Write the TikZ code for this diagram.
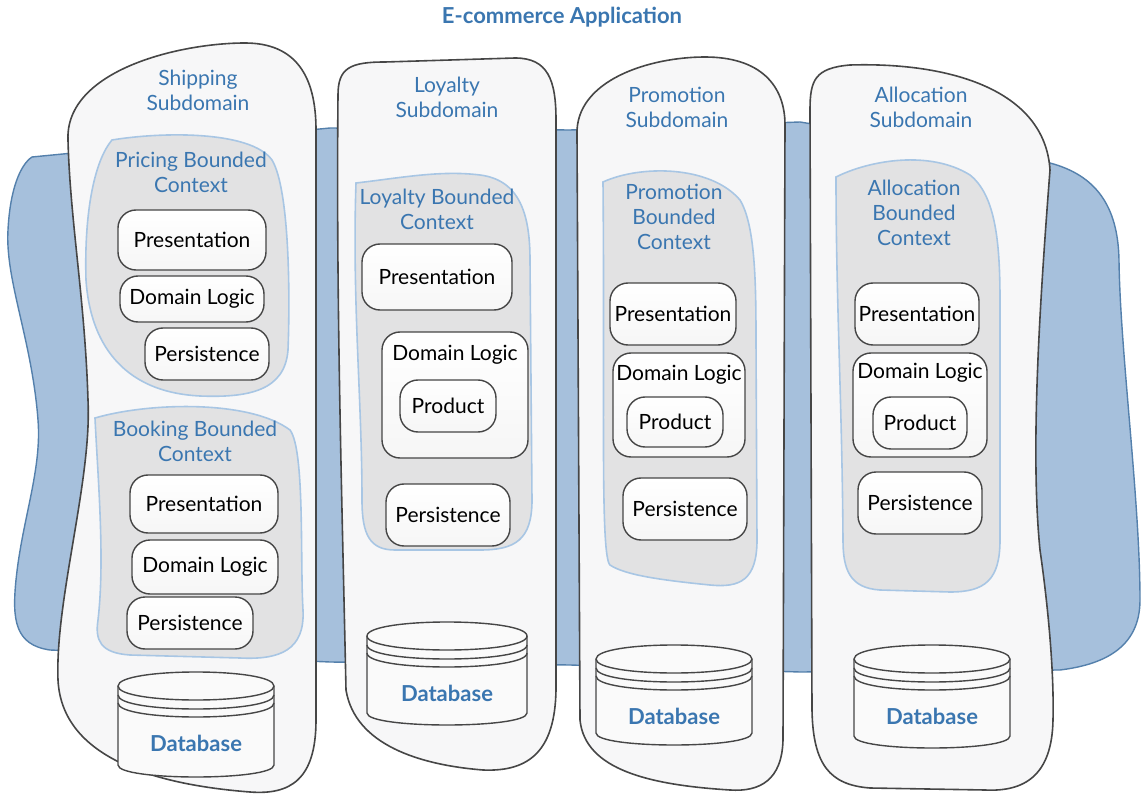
\documentclass[tikz,border=0pt]{standalone}
\usepackage{fontspec}
\setmainfont{Lato}
\usetikzlibrary{positioning}
\definecolor{labelblue}{RGB}{58,118,176}
\definecolor{blobfill}{RGB}{166,192,220}
\definecolor{blobline}{RGB}{84,128,172}
\definecolor{subfill}{RGB}{247,247,248}
\definecolor{ctxfill}{RGB}{226,226,227}
\definecolor{ctxline}{RGB}{168,198,228}
\definecolor{inkgray}{RGB}{70,70,70}

\begin{document}
\begin{tikzpicture}[x=0.5pt,y=-0.5pt,
  subdomain/.style={draw=inkgray,line width=0.8pt,fill=subfill},
  context/.style={draw=ctxline,line width=0.8pt,fill=ctxfill},
  layer/.style={draw=inkgray,line width=0.7pt,rounded corners=9pt,top color=white,bottom color=gray!7,inner sep=0pt,font=\fontsize{10.5}{12.5}\selectfont},
  plainlabel/.style={inner sep=0pt,font=\fontsize{10.5}{12.5}\selectfont},
  bluelabel/.style={text=labelblue,align=center,inner sep=0pt,font=\fontsize{10.5}{12.5}\selectfont},
  dblabel/.style={text=labelblue,inner sep=0pt,font=\fontsize{11}{13}\selectfont\bfseries},
  pics/dbase/.style 2 args={code={
    \path[draw=inkgray,line width=0.7pt,fill=white!96!gray]
      (-#1,14) -- (-#1,#2-12) .. controls (-#1,#2+4) and (#1,#2+4) .. (#1,#2-12)
      -- (#1,14) .. controls (#1,-4.67) and (-#1,-4.67) .. (-#1,14) -- cycle;
    \draw[inkgray,line width=0.7pt] (-#1,14) .. controls (-#1,32.67) and (#1,32.67) .. (#1,14);
    \draw[inkgray,line width=0.7pt] (-#1,23) .. controls (-#1,41.67) and (#1,41.67) .. (#1,23);
    \draw[inkgray,line width=0.7pt] (-#1,31) .. controls (-#1,49.67) and (#1,49.67) .. (#1,31);
    \node[dblabel] (-lbl) at (0,71) {Database};
  }}]
\useasboundingbox[fill=white] (0,0) rectangle (1142,797);

% application backdrop
\path[draw=blobline,fill=blobfill,line width=0.7pt]
  (32,157) -- (330,128) -- (570,130) -- (800,122) -- (1050,163)
  .. controls (1095,175) and (1118,205) .. (1119,260)
  .. controls (1120,350) and (1140,500) .. (1140,600)
  .. controls (1140,650) and (1100,665) .. (1060,670)
  -- (800,672) -- (570,665) -- (330,662) -- (50,650)
  .. controls (15,645) and (12,620) .. (16,580)
  .. controls (22,520) and (42,470) .. (38,420)
  .. controls (32,340) and (5,280) .. (8,230)
  .. controls (10,190) and (20,165) .. (32,157) -- cycle;
\node[text=labelblue,inner sep=0pt,font=\fontsize{11}{13}\selectfont\bfseries] (title) at (562,17) {E-commerce Application};

% subdomains
\path[subdomain] (68,140) .. controls (65,70) and (180,43) .. (245,43)
  .. controls (295,43) and (316,75) .. (316,130) -- (316,720)
  .. controls (316,780) and (290,795) .. (250,792)
  .. controls (160,785) and (62,760) .. (58,680)
  .. controls (55,600) and (92,480) .. (88,400)
  .. controls (85,300) and (70,220) .. (68,140) -- cycle;
\path[subdomain] (338,95) .. controls (338,68) and (350,62) .. (385,62) -- (515,58)
  .. controls (548,58) and (556,80) .. (556,120) -- (556,690)
  .. controls (555,750) and (530,772) .. (483,770)
  .. controls (420,765) and (355,745) .. (346,690)
  .. controls (342,500) and (336,300) .. (338,95) -- cycle;
\path[subdomain] (577,135) .. controls (575,80) and (650,57) .. (705,57)
  .. controls (760,57) and (785,85) .. (785,125) -- (783,740)
  .. controls (782,780) and (760,792) .. (730,790)
  .. controls (650,785) and (585,770) .. (580,720) -- cycle;
\path[subdomain] (810,110) .. controls (810,80) and (815,68) .. (850,65)
  .. controls (950,62) and (1045,90) .. (1050,170)
  .. controls (1040,300) and (1030,450) .. (1040,550)
  .. controls (1050,620) and (1054,680) .. (1053,720)
  .. controls (1052,775) and (1025,792) .. (985,790) -- (870,788)
  .. controls (830,785) and (813,765) .. (812,710) -- cycle;
\node[bluelabel] (shipSub) at (198,90) {Shipping\\Subdomain};
\node[bluelabel] (loySub) at (447,97) {Loyalty\\Subdomain};
\node[bluelabel] (promoSub) at (677,107) {Promotion\\Subdomain};
\node[bluelabel] (allocSub) at (921,107) {Allocation\\Subdomain};

% bounded contexts
\path[context] (112,140) .. controls (160,132) and (250,130) .. (272,160)
  .. controls (290,190) and (290,300) .. (288,350)
  .. controls (285,390) and (250,398) .. (200,396)
  .. controls (120,392) and (90,340) .. (86,280)
  .. controls (84,210) and (95,160) .. (112,140) -- cycle;
\path[context] (95,418) .. controls (150,402) and (250,400) .. (290,430)
  .. controls (305,450) and (300,560) .. (303,610)
  .. controls (305,650) and (280,660) .. (240,658) -- (130,655)
  .. controls (100,653) and (95,640) .. (98,620)
  .. controls (105,560) and (98,480) .. (95,418) -- cycle;
\path[context] (356,183) .. controls (400,178) and (440,170) .. (480,175)
  .. controls (520,180) and (530,215) .. (530,260) -- (532,500)
  .. controls (532,540) and (515,550) .. (480,550) -- (395,550)
  .. controls (370,550) and (362,535) .. (362,500)
  .. controls (362,400) and (352,300) .. (356,183) -- cycle;
\path[context] (603,182) .. controls (640,165) and (710,165) .. (740,200)
  .. controls (755,225) and (756,280) .. (756,340) -- (757,540)
  .. controls (757,580) and (740,588) .. (710,585)
  .. controls (660,580) and (625,575) .. (610,565)
  .. controls (600,555) and (605,400) .. (603,182) -- cycle;
\path[context] (836,177) .. controls (870,160) and (930,150) .. (970,175)
  .. controls (995,195) and (1000,240) .. (1000,300) -- (1000,540)
  .. controls (1000,580) and (985,592) .. (950,592) -- (880,590)
  .. controls (850,588) and (843,570) .. (843,540)
  .. controls (842,400) and (836,300) .. (836,177) -- cycle;
\node[bluelabel] (pricingCtx) at (191,172) {Pricing Bounded\\Context};
\node[bluelabel] (bookingCtx) at (195,441) {Booking Bounded\\Context};
\node[bluelabel] (loyCtx) at (437,209) {Loyalty Bounded\\Context};
\node[bluelabel] (promoCtx) at (674,217) {Promotion\\Bounded\\Context};
\node[bluelabel] (allocCtx) at (914,213) {Allocation\\Bounded\\Context};

% pricing layers
\node[layer,minimum width=74pt,minimum height=30pt] (pricePres) at (192,240) {Presentation};
\node[layer,minimum width=72pt,minimum height=23pt] (priceLogic) at (192,299) {Domain Logic};
\node[layer,minimum width=62pt,minimum height=26pt] (pricePers) at (207,354) {Persistence};
% booking layers
\node[layer,minimum width=74pt,minimum height=29pt] (bookPres) at (204,504) {Presentation};
\node[layer,minimum width=73pt,minimum height=27pt] (bookLogic) at (205,567) {Domain Logic};
\node[layer,minimum width=63pt,minimum height=26pt] (bookPers) at (190,623) {Persistence};
% loyalty layers
\node[layer,minimum width=75pt,minimum height=33pt] (loyPres) at (437,277) {Presentation};
\node[layer,minimum width=73pt,minimum height=63pt] (loyLogic) at (455,395) {};
\node[plainlabel] (loyLogicLbl) at (455,355) {Domain Logic};
\node[layer,minimum width=48pt,minimum height=26pt] (loyProd) at (448,406) {Product};
\node[layer,minimum width=62pt,minimum height=31pt] (loyPers) at (448,515) {Persistence};
% promotion layers
\node[layer,minimum width=63pt,minimum height=31pt] (promoPres) at (673,314) {Presentation};
\node[layer,minimum width=66pt,minimum height=52pt] (promoLogic) at (679,405) {};
\node[plainlabel] (promoLogicLbl) at (679,375) {Domain Logic};
\node[layer,minimum width=48pt,minimum height=25pt] (promoProd) at (675,422) {Product};
\node[layer,minimum width=62pt,minimum height=31pt] (promoPers) at (685,509) {Persistence};
% allocation layers
\node[layer,minimum width=62pt,minimum height=31pt] (allocPres) at (917,314) {Presentation};
\node[layer,minimum width=67pt,minimum height=52pt] (allocLogic) at (920,405) {};
\node[plainlabel] (allocLogicLbl) at (920,373) {Domain Logic};
\node[layer,minimum width=47pt,minimum height=26pt] (allocProd) at (920,423) {Product};
\node[layer,minimum width=62pt,minimum height=31pt] (allocPers) at (920,503) {Persistence};

% databases
\pic (shipDb) at (196,672) {dbase={78}{105}};
\pic (loyDb) at (447,622) {dbase={80}{103}};
\pic (promoDb) at (674,645) {dbase={78}{100}};
\pic (allocDb) at (932,645) {dbase={78}{103}};
\end{tikzpicture}
\end{document}
